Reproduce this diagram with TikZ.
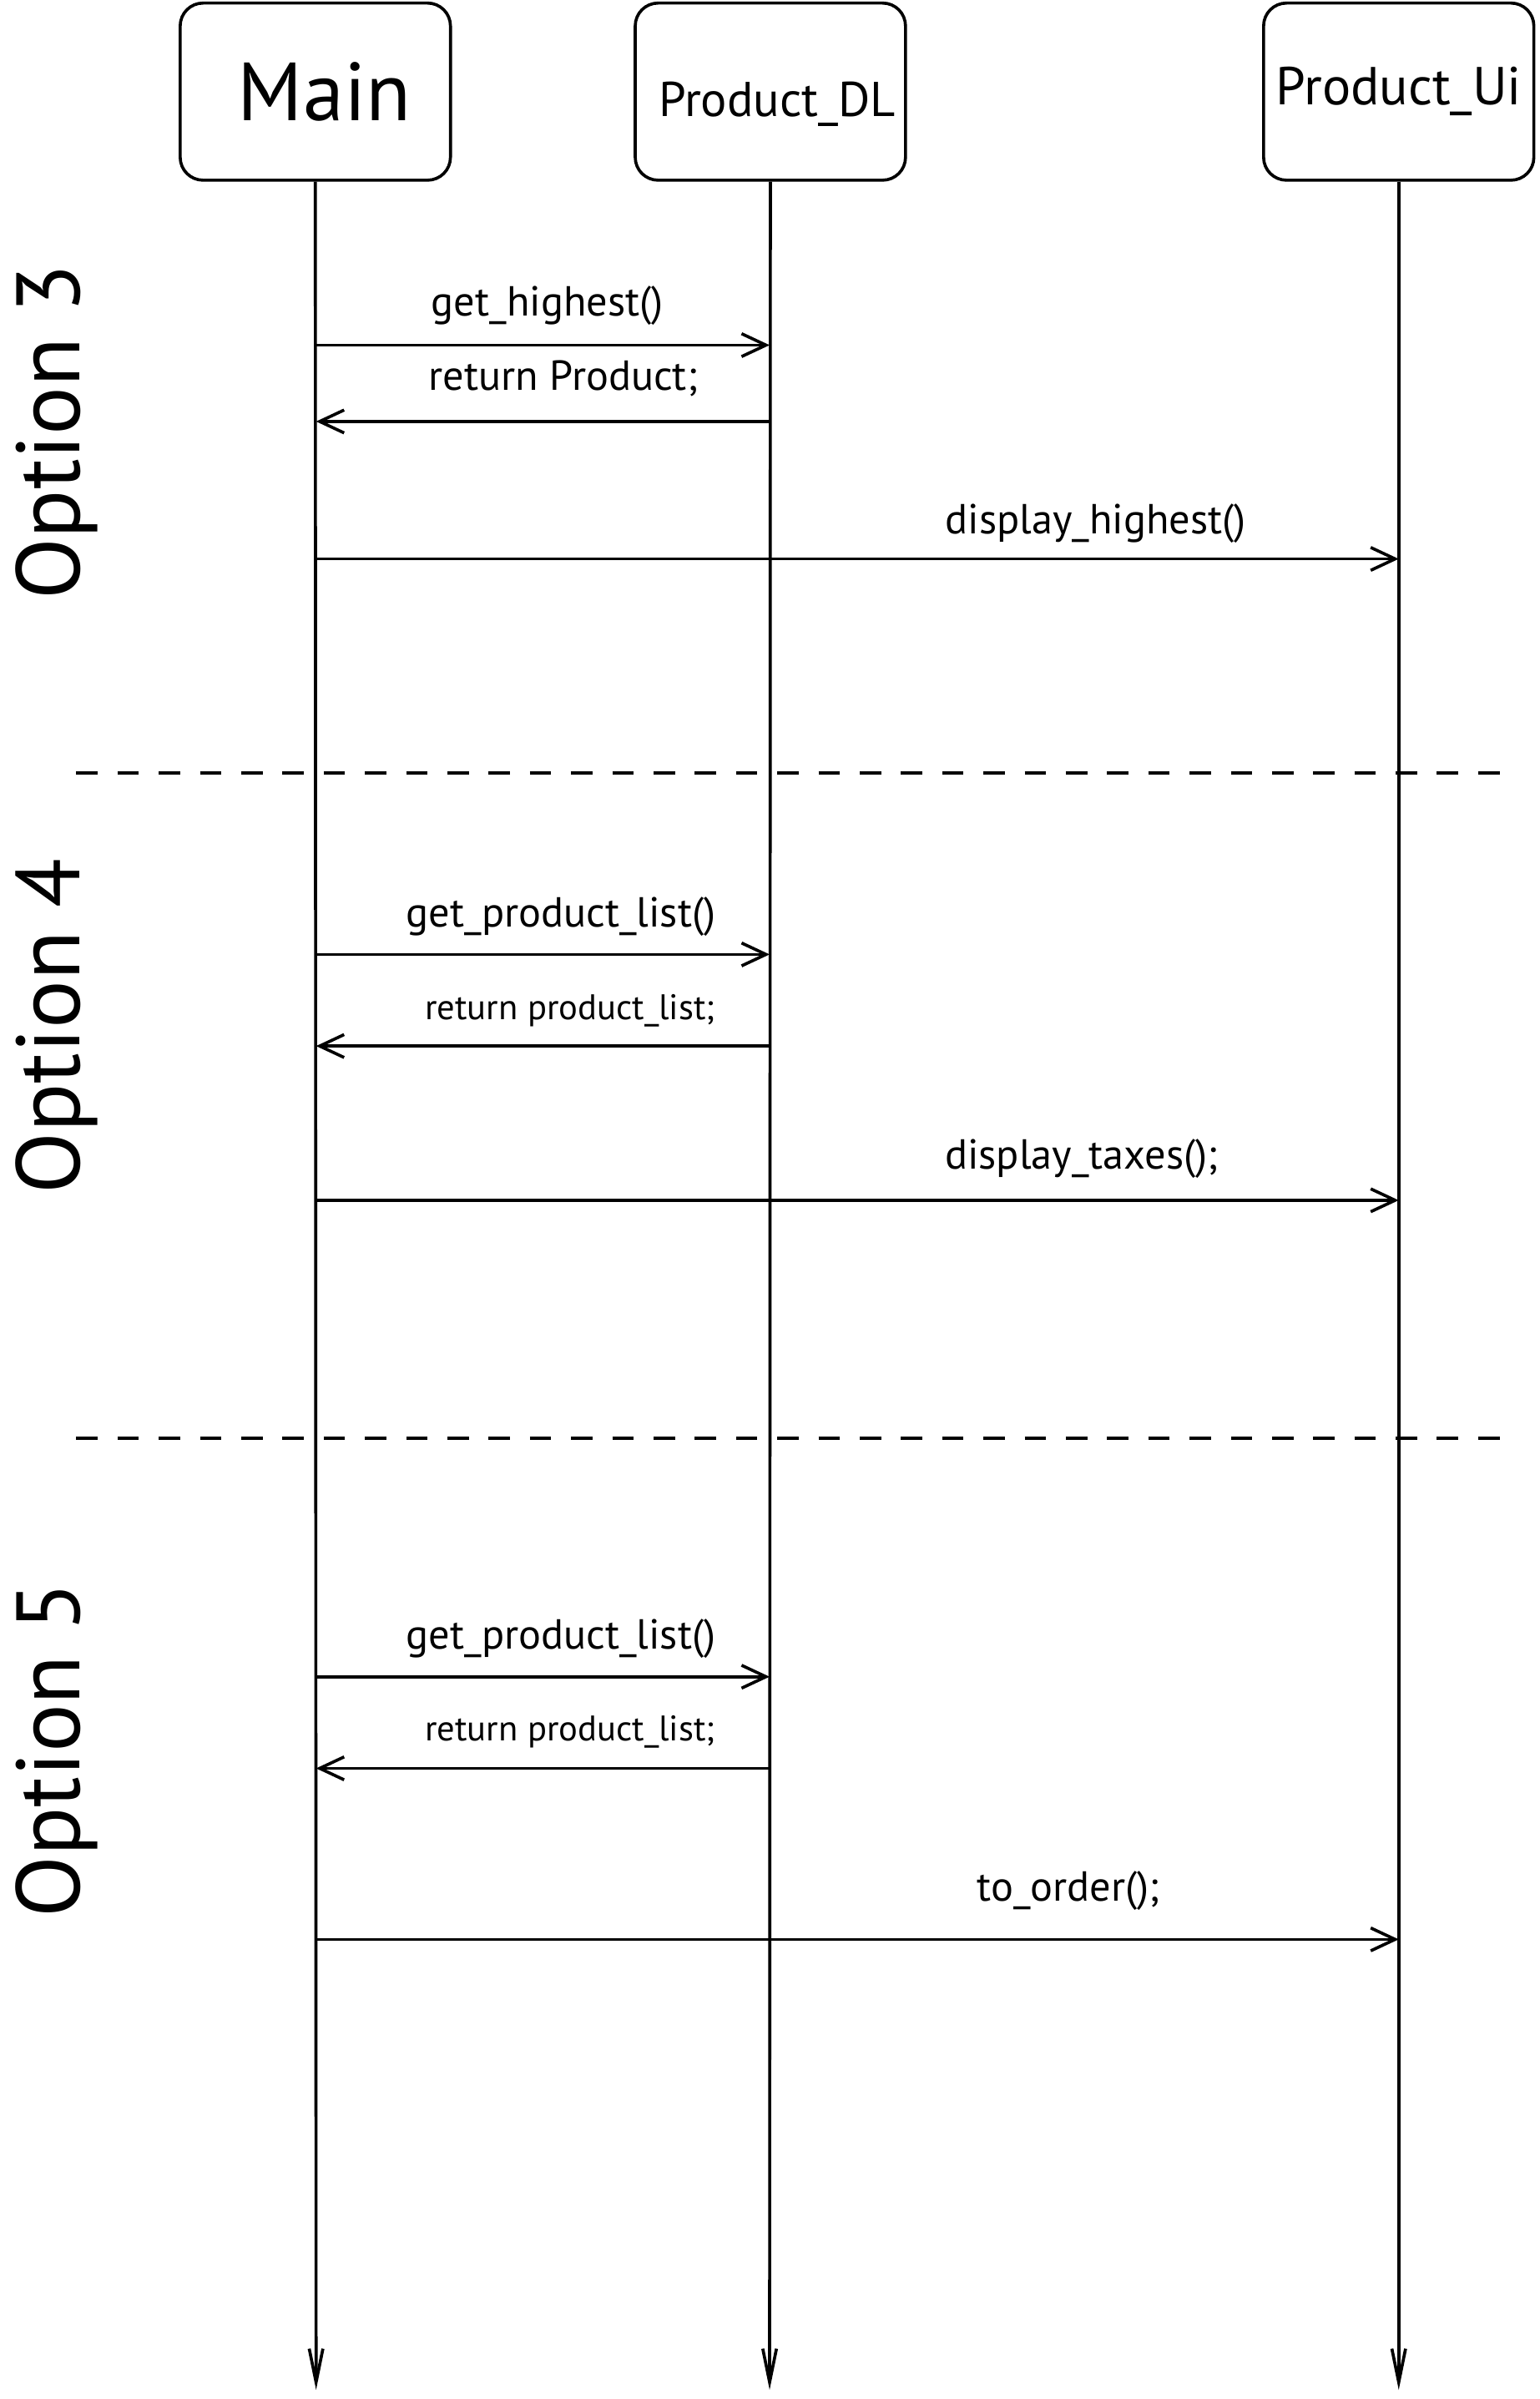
\documentclass[tikz,border=0pt]{standalone}
\usepackage{fontspec}
\setmainfont{PT Sans}
\usetikzlibrary{arrows.meta}
\tikzset{actor/.style={draw,line width=2pt,rounded corners=15pt,minimum width=177pt,minimum height=116pt,inner sep=0pt}}
\tikzset{life/.style={line width=2pt,-{Straight Barb[length=22pt,width=9pt,line width=2pt]}}}
\tikzset{msg/.style={line width=2pt,-{Straight Barb[length=16pt,width=15pt,line width=2pt]}}}
\tikzset{sep/.style={line width=2pt,dash pattern=on 14pt off 13pt}}
\tikzset{lab/.style={font=\fontsize{27.5}{32}\selectfont,inner sep=0pt}}
\tikzset{retlab/.style={font=\fontsize{23.3}{28}\selectfont,inner sep=0pt}}
\tikzset{opt/.style={rotate=90,font=\fontsize{59}{66}\selectfont,inner sep=0pt}}

\begin{document}
\begin{tikzpicture}[x=1pt,y=-1pt]
    \useasboundingbox (0,0) rectangle (1008,1571);
    % objects
    \node[actor,font=\fontsize{54}{60}\selectfont] (main) at (206.5,60) {\hspace*{12pt}Main};
    \node[actor,font=\fontsize{32}{38}\selectfont,text height=40pt,text depth=8pt] (dl) at (504.5,60) {\hspace*{9pt}Product\_DL};
    \node[actor,font=\fontsize{35}{42}\selectfont] (ui) at (916,60) {Product\_Ui};

    % lifelines
    \coordinate (mainend) at (207,1565);
    \coordinate (dlend) at (504,1565);
    \coordinate (uiend) at (916,1565);
    \foreach \x in {main,dl,ui}{
        \draw[life] (\x.south) -- (\x end);
    }

    % points on the lifelines
    \foreach \n/\y in {1/226,2/276,3/366,4/625,5/685,6/786,7/1098,8/1158,9/1270}{
        \coordinate (m\n) at (207,\y);
        \coordinate (d\n) at (504,\y);
        \coordinate (u\n) at (916,\y);
    }

    % option 3
    \node[opt] (opt3) at (37,283) {Option 3};
    \draw[msg] (m1) -- node[lab,pos=.51,yshift=26pt] {get\_highest()} (d1);
    \draw[msg] (d2) -- node[lab,pos=.455,yshift=28pt] {return Product;} (m2);
    \draw[msg] (m3) -- node[lab,pos=.72,yshift=23pt] {display\_highest()} (u3);

    \coordinate (sepa) at (50,506);
    \coordinate (sepb) at (988,506);
    \draw[sep] (sepa) -- (sepb);

    % option 4
    \node[opt] (opt4) at (37,672) {Option 4};
    \draw[msg] (m4) -- node[lab,pos=.54,yshift=25pt] {get\_product\_list()} (d4);
    \draw[msg] (d5) -- node[retlab,pos=.44,yshift=23pt] {return product\_list;} (m5);
    \draw[msg] (m6) -- node[lab,pos=.707,yshift=27pt] {display\_taxes();} (u6);

    \coordinate (sepc) at (50,942);
    \coordinate (sepd) at (988,942);
    \draw[sep] (sepc) -- (sepd);

    % option 5
    \node[opt] (opt5) at (37,1146) {Option 5};
    \draw[msg] (m7) -- node[lab,pos=.54,yshift=25pt] {get\_product\_list()} (d7);
    \draw[msg] (d8) -- node[retlab,pos=.44,yshift=24pt] {return product\_list;} (m8);
    \draw[msg] (m9) -- node[lab,pos=.695,yshift=32pt] {to\_order();} (u9);
\end{tikzpicture}
\end{document}
